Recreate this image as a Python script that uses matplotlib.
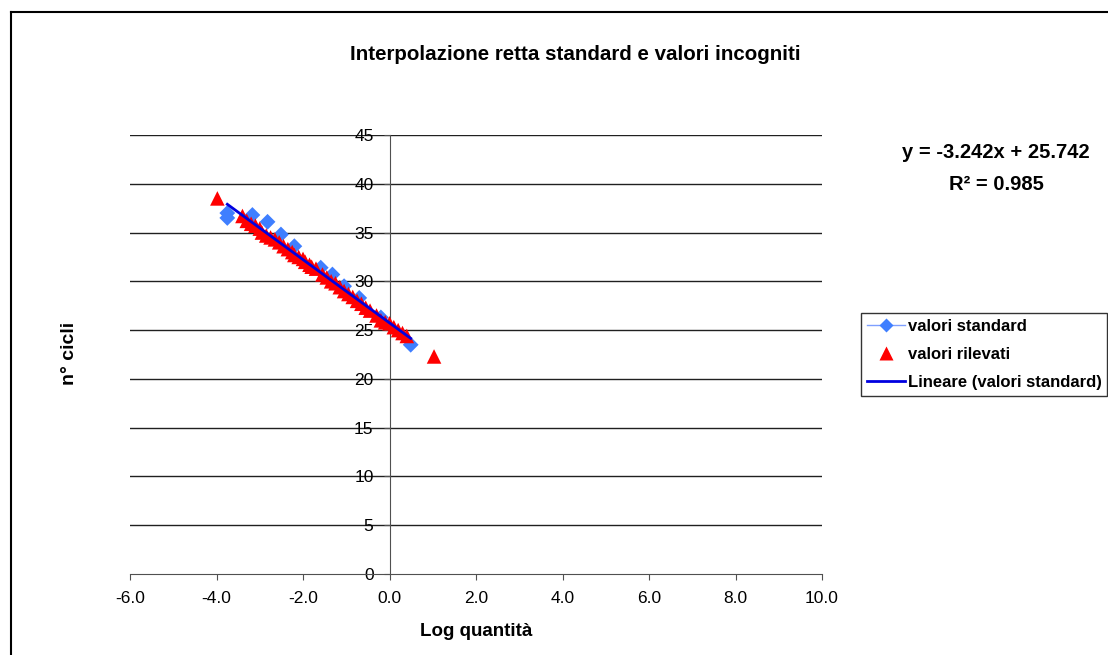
import numpy as np
import matplotlib
matplotlib.use('Agg')
import matplotlib.pyplot as plt
from matplotlib.lines import Line2D

plt.rcParams['font.family'] = ['Liberation Sans', 'DejaVu Sans']

# valori standard (diamanti blu)
std_x = [-3.75, -3.75, -3.17, -2.82, -2.51, -2.20, -1.59, -1.32, -1.05, -0.70, -0.20, 0.49]
std_y = [37.0, 36.5, 36.8, 36.1, 34.8, 33.6, 31.4, 30.7, 29.5, 28.3, 26.3, 23.5]

# valori rilevati (triangoli rossi)
ril_x = [-3.98, -3.40, -3.30, -3.20, -3.10, -3.00, -2.95, -2.85, -2.75, -2.65,
         -2.55, -2.45, -2.35, -2.25, -2.20, -2.10, -2.00, -1.95, -1.85, -1.80,
         -1.70, -1.55, -1.45, -1.35, -1.25, -1.15, -1.05, -0.95, -0.85, -0.75,
         -0.65, -0.55, -0.45, -0.30, -0.20, -0.10, 0.00, 0.10, 0.20, 0.30,
         0.40, 1.03]
ril_y = [38.5, 36.7, 36.2, 35.9, 35.7, 35.4, 35.0, 34.7, 34.5, 34.3,
         34.0, 33.6, 33.3, 33.0, 32.7, 32.5, 32.3, 32.0, 31.7, 31.5,
         31.3, 30.7, 30.4, 30.0, 29.8, 29.4, 29.0, 28.7, 28.4, 28.0,
         27.7, 27.3, 27.0, 26.5, 26.0, 25.8, 25.7, 25.3, 25.0, 24.7,
         24.4, 22.3]

slope, intercept = -3.242, 25.742
x_ticks = np.arange(-6, 10.1, 2)
y_ticks = np.arange(0, 46, 5)

fig = plt.figure(figsize=(11.08, 6.55), dpi=100)
ax = fig.add_axes([130/1108, 1-574/655, 692/1108, 439/655])

for yv in y_ticks[1:]:
    ax.axhline(yv, color='#202020', lw=1.0, zorder=1)

tx = np.array([min(std_x), max(std_x)])
ax.scatter(ril_x, ril_y, marker='^', s=110, color='#ff0000', edgecolors='none', zorder=3)
ax.scatter(std_x, std_y, marker='D', s=65, color='#3f7fff', edgecolors='none', zorder=2)
ax.plot(tx, slope*tx + intercept, color='#0000e0', lw=2, zorder=4)

ax.set_xlim(-6, 10)
ax.set_ylim(0, 45)
ax.spines['left'].set_position(('data', 0))
ax.spines['bottom'].set_position(('data', 0))
ax.spines['right'].set_visible(False)
ax.spines['top'].set_visible(False)
ax.spines['left'].set_color('#505050')
ax.spines['bottom'].set_color('#505050')
ax.set_xticks(x_ticks)
ax.set_xticklabels([f'{v:.1f}' for v in x_ticks])
ax.set_yticks(y_ticks)
ax.tick_params(axis='x', direction='out', length=4.5, pad=8, labelsize=12.5, color='#505050')
ax.tick_params(axis='y', direction='out', length=4.5, pad=7, labelsize=12.5, color='#505050')

fig.text(476/1108, 1-631/655, 'Log quantità', ha='center', va='center', fontsize=13.5, fontweight='bold')
fig.text(69/1108, 1-353/655, 'n° cicli', ha='center', va='center', rotation=90, fontsize=14, fontweight='bold')
fig.text(575/1108, 1-55/655, 'Interpolazione retta standard e valori incogniti',
         ha='center', va='center', fontsize=14.8, fontweight='bold')
fig.text(996/1108, 1-152/655, 'y = -3.242x + 25.742', ha='center', va='center', fontsize=14.5, fontweight='bold')
fig.text(996/1108, 1-184/655, 'R² = 0.985', ha='center', va='center', fontsize=14.5, fontweight='bold')

handles = [
    Line2D([], [], color='#7f9fff', lw=1, marker='D', markersize=7, markerfacecolor='#3f7fff', markeredgecolor='none'),
    Line2D([], [], ls='none', marker='^', markersize=10, color='#ff0000', markeredgecolor='none'),
    Line2D([], [], color='#0000e0', lw=2),
]
leg = fig.legend(handles, ['valori standard', 'valori rilevati', 'Lineare (valori standard)'],
                 loc='upper left', bbox_to_anchor=(861/1108, 1-313/655), frameon=True, fancybox=False,
                 prop={'weight': 'bold', 'size': 12}, handlelength=2.3, handletextpad=0.15,
                 borderpad=0.35, labelspacing=0.78, borderaxespad=0)
leg.get_frame().set_edgecolor('black')
leg.get_frame().set_linewidth(1)

# cornice esterna
fig.add_artist(Line2D([11/1108, 1], [1-12/655, 1-12/655], color='black', lw=1.5, transform=fig.transFigure))
fig.add_artist(Line2D([11/1108, 11/1108], [0, 1-12/655], color='black', lw=1.5, transform=fig.transFigure))

fig.savefig('out.png', dpi=100)
